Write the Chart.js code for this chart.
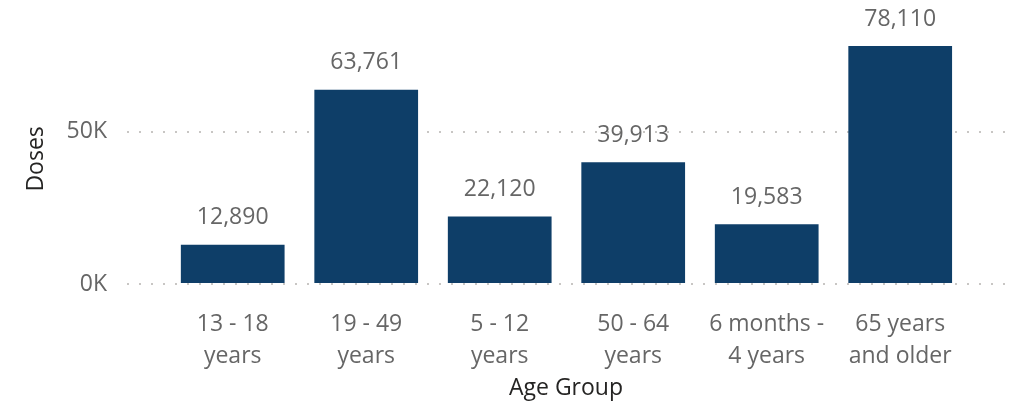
<!DOCTYPE html>
<html>
<head>
<meta charset="utf-8">
<script src="https://cdn.jsdelivr.net/npm/chart.js@4/dist/chart.umd.min.js"></script>
<style>
  html, body { margin: 0; padding: 0; background: #fff; }
  #wrap { width: 1014px; height: 402px; }
</style>
</head>
<body>
<div id="wrap"><canvas id="doses"></canvas></div>
<script>
// values
const ageGroups = [["13 - 18", "years"], ["19 - 49", "years"], ["5 - 12", "years"],
                   ["50 - 64", "years"], ["6 months -", "4 years"], ["65 years", "and older"]];
const doses = [12890, 63761, 22120, 39913, 19583, 78110];
const yTicks = [0, 50000];

const fontFam = "'Open Sans', 'Noto Sans', sans-serif";

// numbers above each bar
const barLabels = {
  id: "barLabels",
  afterDatasetsDraw(chart) {
    const ctx = chart.ctx;
    const meta = chart.getDatasetMeta(0);
    ctx.save();
    ctx.font = "23px " + fontFam;
    ctx.fillStyle = "#666666";
    ctx.textAlign = "center";
    ctx.textBaseline = "middle";
    meta.data.forEach((bar, i) => {
      ctx.fillText(doses[i].toLocaleString("en-US"), bar.x, bar.y - 27);
    });
    ctx.restore();
  }
};

new Chart(document.getElementById("doses"), {
  type: "bar",
  data: {
    datasets: [{
      data: doses.map((v, i) => ({ x: i, y: v })),
      backgroundColor: "#0E3E68",
      barPercentage: 0.777,
      categoryPercentage: 1
    }]
  },
  options: {
    responsive: true,
    maintainAspectRatio: false,
    animation: false,
    layout: { padding: { top: 0, right: 9, left: 23, bottom: 0 } },
    plugins: { legend: { display: false }, tooltip: { enabled: false } },
    scales: {
      x: {
        type: "linear",
        offset: false,
        min: -0.792,
        max: 5.785,
        grid: { display: false },
        border: { display: false },
        afterBuildTicks: (axis) => { axis.ticks = ageGroups.map((g, i) => ({ value: i })); },
        ticks: {
          autoSkip: false,
          maxRotation: 0,
          padding: 16,
          color: "#666666",
          font: { family: fontFam, size: 23, lineHeight: 1.4 },
          callback: (v) => ageGroups[v]
        },
        title: {
          display: true,
          text: "Age Group",
          color: "#252423",
          padding: { top: -14, bottom: 0 },
          font: { family: fontFam, size: 23 }
        }
      },
      y: {
        min: 0,
        max: 82100,
        border: { display: false, dash: [2, 10] },
        afterBuildTicks: (axis) => { axis.ticks = yTicks.map(v => ({ value: v })); },
        grid: {
          color: "#C8C6C4",
          lineWidth: 2,
          drawTicks: false
        },
        ticks: {
          padding: 20,
          color: "#666666",
          font: { family: fontFam, size: 23 },
          callback: (v) => (v / 1000) + "K"
        },
        title: {
          display: true,
          text: "Doses",
          color: "#252423",
          padding: { top: 0, bottom: -4 },
          font: { family: fontFam, size: 23 }
        }
      }
    }
  },
  plugins: [barLabels]
});
</script>
</body>
</html>
